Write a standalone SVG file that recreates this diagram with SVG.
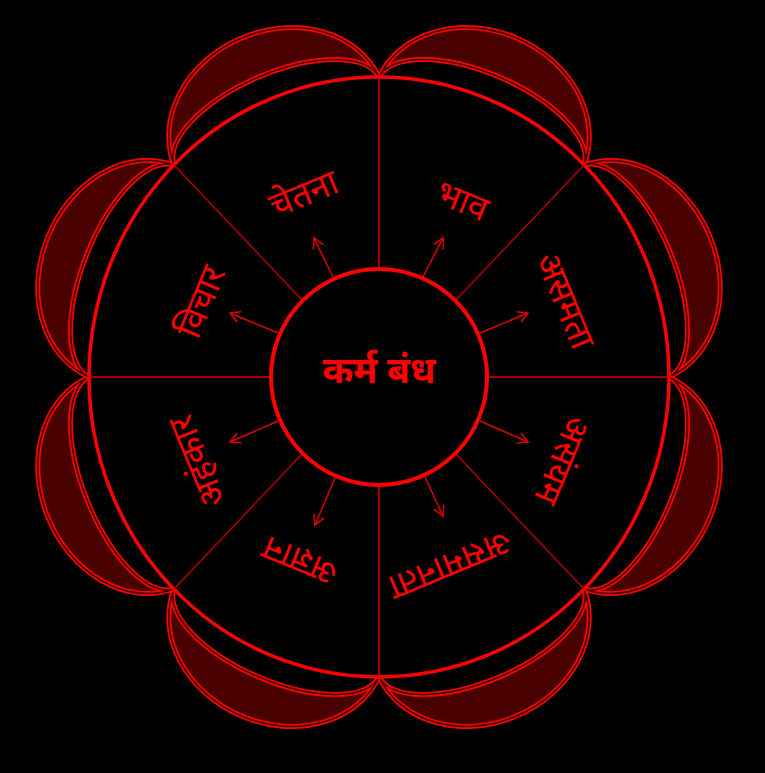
<svg xmlns="http://www.w3.org/2000/svg" width="765" height="773" viewBox="0 0 765 773">
<style>
.petal-fill{fill:#480000;stroke:none}
.petal-line{fill:none;stroke:#ff0000;stroke-width:5}
.petal-gap{fill:none;stroke:#3a0000;stroke-width:1.6}
.spoke{stroke:#e00000;stroke-width:1.5}
.diag{stroke:#b00000;stroke-width:1.5}
.arrow{stroke:#e00000;stroke-width:1.5;fill:none;marker-end:url(#ah)}
.lbl{fill:#ff0000;font-family:'Noto Sans Devanagari','Lohit Devanagari','Mukta','FreeSans','Noto Sans',sans-serif;font-size:35px;text-anchor:middle;dominant-baseline:central}
.center{fill:#ff0000;font-family:'Noto Sans Devanagari','Lohit Devanagari','Mukta','FreeSans','Noto Sans',sans-serif;font-size:37px;font-weight:bold;text-anchor:middle;dominant-baseline:central}
</style>
<defs>
<marker id="ah" markerWidth="14" markerHeight="14" refX="11" refY="7" orient="auto" markerUnits="userSpaceOnUse">
<path d="M1,1.5 L11,7 L1,12.5" fill="none" stroke="#e00000" stroke-width="1.5"/>
</marker>
<path id="p0" d="M379,77 A111.6,93 23.23 0 1 584,165 A111.6,49 23.23 0 0 379,77 Z"/>
<path id="p1" d="M584,165 A114.25,93 68.15 0 1 669,377 A114.25,49 68.15 0 0 584,165 Z"/>
<path id="p2" d="M669,377 A114.25,93 111.85 0 1 584,589 A114.25,49 111.85 0 0 669,377 Z"/>
<path id="p3" d="M584,589 A111.6,93 156.77 0 1 379,677 A111.6,49 156.77 0 0 584,589 Z"/>
<path id="p4" d="M379,677 A111.6,93 203.23 0 1 174,589 A111.6,49 203.23 0 0 379,677 Z"/>
<path id="p5" d="M174,589 A114.25,93 248.15 0 1 89,377 A114.25,49 248.15 0 0 174,589 Z"/>
<path id="p6" d="M89,377 A114.25,93 291.85 0 1 174,165 A114.25,49 291.85 0 0 89,377 Z"/>
<path id="p7" d="M174,165 A111.6,93 336.77 0 1 379,77 A111.6,49 336.77 0 0 174,165 Z"/>
</defs>
<rect x="0" y="0" width="765" height="773" fill="#000"/>

<g id="petals">
<g id="petal-0"><use href="#p0" class="petal-fill"/><use href="#p0" class="petal-line"/><use href="#p0" class="petal-gap"/></g>
<g id="petal-1"><use href="#p1" class="petal-fill"/><use href="#p1" class="petal-line"/><use href="#p1" class="petal-gap"/></g>
<g id="petal-2"><use href="#p2" class="petal-fill"/><use href="#p2" class="petal-line"/><use href="#p2" class="petal-gap"/></g>
<g id="petal-3"><use href="#p3" class="petal-fill"/><use href="#p3" class="petal-line"/><use href="#p3" class="petal-gap"/></g>
<g id="petal-4"><use href="#p4" class="petal-fill"/><use href="#p4" class="petal-line"/><use href="#p4" class="petal-gap"/></g>
<g id="petal-5"><use href="#p5" class="petal-fill"/><use href="#p5" class="petal-line"/><use href="#p5" class="petal-gap"/></g>
<g id="petal-6"><use href="#p6" class="petal-fill"/><use href="#p6" class="petal-line"/><use href="#p6" class="petal-gap"/></g>
<g id="petal-7"><use href="#p7" class="petal-fill"/><use href="#p7" class="petal-line"/><use href="#p7" class="petal-gap"/></g>
</g>

<g id="outer-wheel">
<ellipse cx="379" cy="377" rx="290" ry="300" fill="none" stroke="#ff0000" stroke-width="3.5"/>
</g>

<g id="connectors">
<line class="spoke" x1="379" y1="269" x2="379" y2="77"/>
<line class="spoke" x1="379" y1="485" x2="379" y2="677"/>
<line class="spoke" x1="271" y1="377" x2="89" y2="377"/>
<line class="spoke" x1="487" y1="377" x2="669" y2="377"/>
<line class="diag" x1="303" y1="301" x2="174" y2="165"/>
<line class="diag" x1="455" y1="301" x2="584" y2="165"/>
<line class="diag" x1="303" y1="453" x2="174" y2="589"/>
<line class="diag" x1="455" y1="453" x2="584" y2="589"/>
<line class="arrow" x1="423" y1="277" x2="443" y2="238"/>
<line class="arrow" x1="480" y1="333" x2="528" y2="313"/>
<line class="arrow" x1="480" y1="421" x2="528" y2="442"/>
<line class="arrow" x1="425" y1="477" x2="443" y2="516"/>
<line class="arrow" x1="335" y1="478" x2="315" y2="525"/>
<line class="arrow" x1="278" y1="421" x2="230" y2="442"/>
<line class="arrow" x1="278" y1="333" x2="230" y2="313"/>
<line class="arrow" x1="333" y1="277" x2="314" y2="238"/>
</g>

<g id="center-node">
<circle cx="379" cy="377" r="108" fill="#000" stroke="#ff0000" stroke-width="4"/>
<text class="center" x="379" y="374">कर्म बंध</text>
</g>

<g id="node-chetna"><text class="lbl" transform="translate(305,197) rotate(-22.5)">चेतना</text></g>
<g id="node-bhav"><text class="lbl" transform="translate(461,204) rotate(22.5)">भाव</text></g>
<g id="node-asamta"><text class="lbl" transform="translate(562,302) rotate(67.5)">असमता</text></g>
<g id="node-asanyam"><text class="lbl" transform="translate(559,459) rotate(112.5)">असंयम</text></g>
<g id="node-asamanta"><text class="lbl" transform="translate(449,562) rotate(157.5)">असमानता</text></g>
<g id="node-agyan"><text class="lbl" transform="translate(301,558) rotate(202.5)">अज्ञान</text></g>
<g id="node-ahankar"><text class="lbl" transform="translate(200,460) rotate(247.5)">अहंकार</text></g>
<g id="node-vichar"><text class="lbl" transform="translate(204,303) rotate(292.5)">विचार</text></g>
</svg>
